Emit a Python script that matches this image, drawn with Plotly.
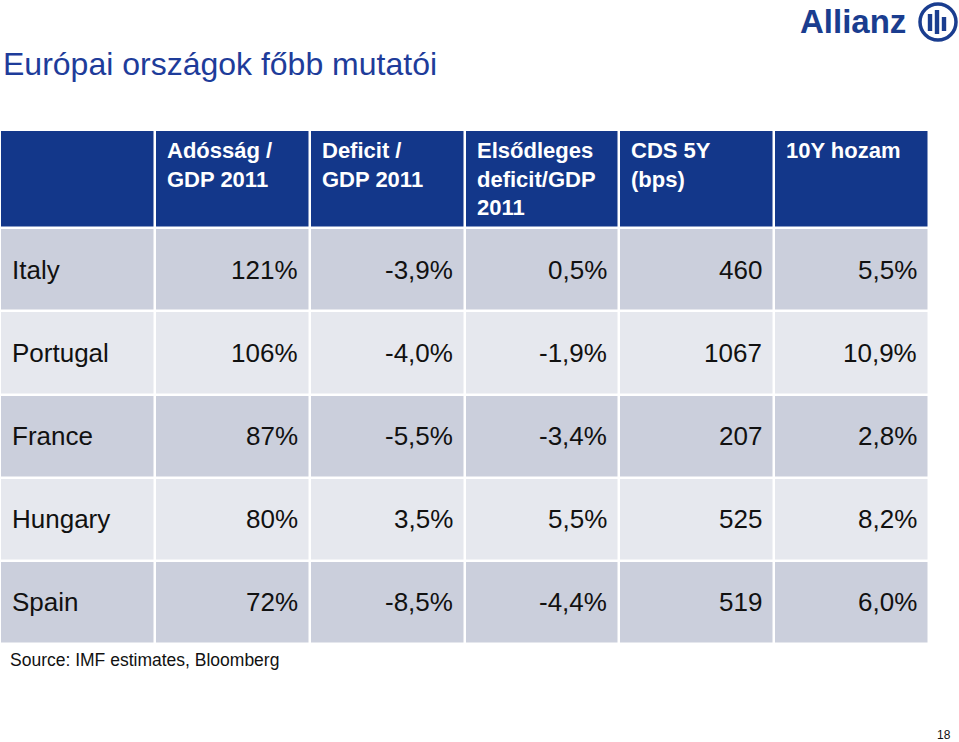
import plotly.graph_objects as go

# ---- data ----
countries = ["Italy", "Portugal", "France", "Hungary", "Spain"]
headers = ["", "Adósság /<br>GDP 2011", "Deficit /<br>GDP 2011",
           "Elsődleges<br>deficit/GDP<br>2011", "CDS 5Y<br>(bps)", "10Y hozam"]
debt_gdp = [121, 106, 87, 80, 72]          # %
deficit_gdp = [-3.9, -4.0, -5.5, 3.5, -8.5]  # %
primary_deficit = [0.5, -1.9, -3.4, 5.5, -4.4]  # %
cds_5y = [460, 1067, 207, 525, 519]        # bps
yield_10y = [5.5, 10.9, 2.8, 8.2, 6.0]      # %

title = "Európai országok főbb mutatói"
source = "Source: IMF estimates, Bloomberg"
page = "18"


def pct1(v):
    return f"{v:.1f}".replace(".", ",") + "%"


columns = [
    countries,
    [f"{v}%" for v in debt_gdp],
    [pct1(v) for v in deficit_gdp],
    [pct1(v) for v in primary_deficit],
    [str(v) for v in cds_5y],
    [pct1(v) for v in yield_10y],
]

# ---- layout constants ----
W, H = 959, 742
FONT = "Liberation Sans, Arial, Helvetica, sans-serif"
HEADER_BLUE = "#13378a"
ROW_DARK = "#cbcfdc"
ROW_LIGHT = "#e6e8ee"
LOGO_BLUE = "#1a3d8f"
header_h = 98
row_h = 83
ncol = len(headers)
nrow = len(countries)

y_edges = [0, header_h] + [header_h + row_h * (i + 1) for i in range(nrow)]
x_edges = list(range(ncol + 1))
z = [[0] * ncol] + [[1 if i % 2 == 0 else 2] * ncol for i in range(nrow)]

fig = go.Figure(go.Heatmap(
    z=z, x=x_edges, y=y_edges,
    colorscale=[[0, HEADER_BLUE], [0.5, ROW_DARK], [1, ROW_LIGHT]],
    zmin=0, zmax=2, showscale=False, xgap=2.5, ygap=2.5, hoverinfo="skip",
))

ann = []
# header text
for j, h in enumerate(headers):
    if not h:
        continue
    ann.append(dict(x=j, y=0, xref="x", yref="y", text=f"<b>{h}</b>",
                    xanchor="left", yanchor="top", align="left",
                    xshift=10, yshift=-6, showarrow=False,
                    font=dict(family=FONT, size=22, color="white")))
# body text
for i in range(nrow):
    yc = (y_edges[i + 1] + y_edges[i + 2]) / 2
    for j in range(ncol):
        if j == 0:
            ann.append(dict(x=0, y=yc, xref="x", yref="y", text=columns[j][i],
                            xanchor="left", yanchor="middle", xshift=10,
                            showarrow=False,
                            font=dict(family=FONT, size=26, color="#111111")))
        else:
            ann.append(dict(x=j + 1, y=yc, xref="x", yref="y", text=columns[j][i],
                            xanchor="right", yanchor="middle", xshift=-10,
                            showarrow=False,
                            font=dict(family=FONT, size=26, color="#111111")))

# title, source, page number, logo
ann.append(dict(x=1 / W, y=1 - 64 / H, xref="paper", yref="paper", text=title,
                xanchor="left", yanchor="middle", showarrow=False,
                font=dict(family=FONT, size=32, color="#1e3c9a")))
ann.append(dict(x=8 / W, y=1 - 660 / H, xref="paper", yref="paper", text=source,
                xanchor="left", yanchor="middle", showarrow=False,
                font=dict(family=FONT, size=17.5, color="#111111")))
ann.append(dict(x=953 / W, y=1 - 735 / H, xref="paper", yref="paper", text=page,
                xanchor="right", yanchor="middle", showarrow=False,
                font=dict(family=FONT, size=12, color="#111111")))
ann.append(dict(x=908 / W, y=1 - 22 / H, xref="paper", yref="paper", text="<b>Allianz</b>",
                xanchor="right", yanchor="middle", showarrow=False,
                font=dict(family=FONT, size=33, color=LOGO_BLUE)))

shapes = [
    dict(type="circle", xref="paper", yref="paper",
         x0=920 / W, x1=956 / W, y0=1 - 40 / H, y1=1 - 4 / H,
         line=dict(color=LOGO_BLUE, width=3.5), fillcolor="white"),
]
for cx, top, bot in [(930, 14, 31), (937, 10, 34), (944, 17, 31)]:
    shapes.append(dict(type="rect", xref="paper", yref="paper",
                       x0=(cx - 2.2) / W, x1=(cx + 2.2) / W,
                       y0=1 - bot / H, y1=1 - top / H,
                       fillcolor=LOGO_BLUE, line=dict(width=0)))

fig.update_layout(
    width=W, height=H,
    margin=dict(l=0, r=0, t=0, b=0),
    paper_bgcolor="white", plot_bgcolor="white",
    xaxis=dict(domain=[0, 929 / W], range=[0, ncol], visible=False, fixedrange=True),
    yaxis=dict(domain=[1 - 644 / H, 1 - 130 / H], range=[y_edges[-1], 0],
               visible=False, fixedrange=True),
    annotations=ann, shapes=shapes, showlegend=False,
)

fig.write_html("out.html", config={"displayModeBar": False},
               post_script="document.body.style.margin='0';")
